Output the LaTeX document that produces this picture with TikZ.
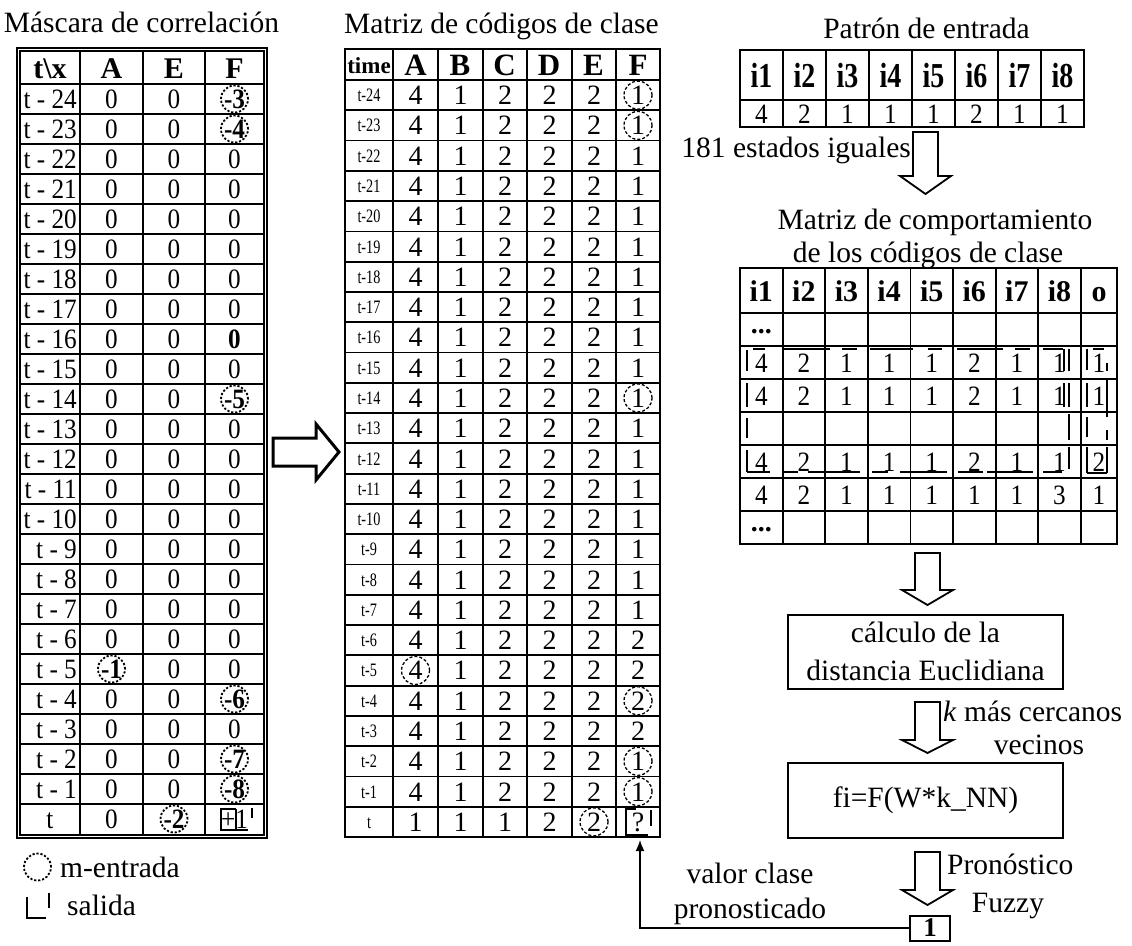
\documentclass[tikz,border=0pt]{standalone}
\usepackage{fontspec}
\setmainfont{Liberation Serif}
\newfontfamily\condfont[FakeStretch=0.9]{Liberation Serif}
\newfontfamily\slimfont[FakeStretch=0.8]{Liberation Serif}
\newfontfamily\tinyfont[FakeStretch=0.75]{Liberation Serif}
\usetikzlibrary{arrows.meta}
\newcommand\fsz[1]{\fontsize{#1}{#1}\selectfont}
% hollow block arrow pointing down: x centre, top, head base, tip
\newcommand\hollowdown[4]{\draw[block] ({#1-12.5},#2) -- ({#1+12.5},#2) -- ({#1+12.5},#3) -- ({#1+25.5},#3) -- (#1,#4) -- ({#1-25.5},#3) -- ({#1-12.5},#3) -- cycle;}
\begin{document}
\begin{tikzpicture}[x=1pt,y=-1pt,
  every node/.style={inner sep=0pt},
  cell/.style={text height=#1, text depth=0pt},
  gridline/.style={line width=1.6pt},
  gridM/.style={line width=1.8pt},
  ttl/.style={font=\fsz{29.5}, anchor=base},
  hdrL/.style={cell=20pt, font=\fsz{30}\bfseries},
  numL/.style={cell=19pt, font=\condfont\fsz{28}},
  ringL/.style={circle, draw, line width=1.8pt, dash pattern=on 2.2pt off 1.8pt, minimum size=27pt},
  hdrM/.style={cell=21pt, font=\fsz{31}\bfseries},
  timeM/.style={cell=13pt, font=\tinyfont\fsz{19}},
  numM/.style={cell=19pt, font=\fsz{28}},
  ringM/.style={circle, draw, line width=1.3pt, dash pattern=on 3pt off 2pt, minimum size=28pt},
  hdrP/.style={cell=24pt, font=\slimfont\fsz{35}\bfseries},
  hdrB/.style={cell=21pt, font=\fsz{30}\bfseries},
  numR/.style={cell=19pt, font=\condfont\fsz{28}},
  dotsR/.style={font=\fsz{28}\bfseries},
  salidaline/.style={line width=1.6pt},
  bracket/.style={line width=1.6pt},
  block/.style={line width=1.8pt, line join=miter},
  procbox/.style={draw, line width=2pt, minimum width=275pt, minimum height=74pt, align=center, font=\fontsize{29.5}{38}\selectfont},
  plain/.style={font=\fsz{29.5}}
]
\useasboundingbox (0,0) rectangle (1132,945);

%---------------- Máscara de correlación ----------------
\node[ttl] (titL) at (141.5,32) {Máscara de correlación};
\draw[line width=1.5pt] (17,48) rectangle (267,838);
\draw[line width=1.5pt] (20,51) rectangle (264,835);
\foreach \x in {80,143,205} \draw[gridline] (\x,51) -- (\x,835);
\draw[gridline] (20,84) -- (264,84);
\foreach \k in {1,...,24} \draw[gridline] (20,{84+30*\k}) -- (264,{84+30*\k});
\node[hdrL] (LH0) at (50,68) {t\textbackslash x};
\node[hdrL] (LHA) at (111.5,68) {A};
\node[hdrL] (LHE) at (174,68) {E};
\node[hdrL] (LHF) at (234.5,68) {F};
\foreach \k in {1,...,24}{
  \pgfmathtruncatemacro\n{25-\k}
  \node[numL, anchor=east] (Lr\k) at (77,{99+30*(\k-1)}) {t - \n};
}
\node[numL] (Lr25) at (50,819) {t};
\foreach \va/\ve/\vf [count=\k] in {0/0/{\textbf{-3}},0/0/{\textbf{-4}},0/0/0,0/0/0,0/0/0,0/0/0,0/0/0,0/0/0,
  0/0/{\textbf{0}},0/0/0,0/0/{\textbf{-5}},0/0/0,0/0/0,0/0/0,0/0/0,0/0/0,0/0/0,0/0/0,0/0/0,
  {\textbf{-1}}/0/0,0/0/{\textbf{-6}},0/0/0,0/0/{\textbf{-7}},0/0/{\textbf{-8}},0/{\textbf{-2}}/{+1}}{
  \node[numL] (LA\k) at (111.5,{99+30*(\k-1)}) {\va};
  \node[numL] (LE\k) at (174,{99+30*(\k-1)}) {\ve};
  \node[numL] (LF\k) at (234.5,{99+30*(\k-1)}) {\vf};
}
\foreach \c/\k in {F/1,F/2,F/11,A/20,F/21,F/23,F/24,E/25}
  \node[ringL] (cL\c\k) at (L\c\k) {};
% output mark around +1
\draw[salidaline] (236,809) -- (221,809) -- (221,830) -- (248,830);
\draw[salidaline] (236,809) -- (236,830);
\draw[salidaline] (252,808) -- (252,818);

% legend
\node[ringL] (legc) at (37.5,867) {};
\node[plain, anchor=base west] (legm) at (60,877) {m-entrada};
\draw[salidaline] (27,897) -- (27,918) -- (46,918);
\draw[salidaline] (49,893) -- (49,908);
\node[plain, anchor=base west] (legs) at (67,915) {salida};

%---------------- block arrow between the tables ----------------
\draw[line width=3pt, line join=miter] (273,438) -- (316,438) -- (316,424) -- (339,452) -- (316,480) -- (316,466) -- (273,466) -- cycle;

%---------------- Matriz de códigos de clase ----------------
\node[ttl] (titM) at (501.5,33) {Matriz de códigos de clase};
\draw[gridM] (345,49) rectangle (660,837);
\foreach \x in {393,438,483,527,572,616} \draw[gridM] (\x,49) -- (\x,837);
\draw[gridM] (345,80) -- (660,80);
\foreach \k in {1,...,24} \draw[gridM] (345,{80+30.28*\k}) -- (660,{80+30.28*\k});
\node[cell=16pt, font=\fsz{23}\bfseries] (MHt) at (369,65) {time};
\foreach \h [count=\c] in {A,B,C,D,E,F}
  \node[hdrM] (MH\h) at ({415.5+44.5*(\c-1)},65) {\h};
\foreach \k in {1,...,24}{
  \pgfmathtruncatemacro\n{25-\k}
  \node[timeM] (Mt\k) at (369,{95.14+30.28*(\k-1)}) {t-\n};
}
\node[timeM] (Mt25) at (369,{95.14+30.28*24}) {t};
\foreach \ca/\cb/\cc/\cd/\ce/\cf [count=\k] in {4/1/2/2/2/1,4/1/2/2/2/1,4/1/2/2/2/1,4/1/2/2/2/1,4/1/2/2/2/1,
  4/1/2/2/2/1,4/1/2/2/2/1,4/1/2/2/2/1,4/1/2/2/2/1,4/1/2/2/2/1,4/1/2/2/2/1,4/1/2/2/2/1,4/1/2/2/2/1,
  4/1/2/2/2/1,4/1/2/2/2/1,4/1/2/2/2/1,4/1/2/2/2/1,4/1/2/2/2/1,4/1/2/2/2/2,4/1/2/2/2/2,4/1/2/2/2/2,
  4/1/2/2/2/2,4/1/2/2/2/1,4/1/2/2/2/1,1/1/1/2/2/?}{
  \pgfmathsetmacro\yy{95.14+30.28*(\k-1)}
  \node[numM] (MA\k) at (415.5,\yy) {\ca};
  \node[numM] (MB\k) at (460.5,\yy) {\cb};
  \node[numM] (MC\k) at (505,\yy) {\cc};
  \node[numM] (MD\k) at (549.5,\yy) {\cd};
  \node[numM] (ME\k) at (594,\yy) {\ce};
  \node[numM] (MF\k) at (638,\yy) {\cf};
}
\foreach \c/\k in {F/1,F/2,F/11,A/20,F/21,F/23,F/24,E/25}
  \node[ringM] (cM\c\k) at (M\c\k) {};
% output mark around ?
\draw[salidaline] (636,809) -- (626,809) -- (626,835) -- (648,835);
\draw[salidaline] (651,810) -- (651,826);
\coordinate (qtgt) at (640,840);

%---------------- Patrón de entrada ----------------
\node[ttl] (titP) at (926.5,38) {Patrón de entrada};
\draw[gridM] (740,50) rectangle (1084,127);
\draw[gridM] (740,100) -- (1084,100);
\foreach \c in {1,...,7} \draw[gridM] ({740+43*\c},50) -- ({740+43*\c},127);
\foreach \v [count=\c] in {4,2,1,1,1,2,1,1}{
  \node[hdrP] (PH\c) at ({740+43*(\c-0.5)},75) {i\c};
  \node[numR] (PV\c) at ({740+43*(\c-0.5)},114) {\v};
}
\node[plain, anchor=base east] (lab181) at (911,157) {181 estados iguales};
\hollowdown{925.5}{132}{176}{194}

%---------------- Matriz de comportamiento ----------------
\node[ttl] (titB1) at (935,229) {Matriz de comportamiento};
\node[ttl] (titB2) at (928,262) {de los códigos de clase};
\draw[gridM] (740,268) rectangle (1117,544);
\foreach \c in {1,...,8} \draw[gridM] ({740+42.6*\c},268) -- ({740+42.6*\c},544);
\draw[gridM] (740,313) -- (1117,313);
\foreach \r in {1,...,6} \draw[gridM] (740,{313+33*\r}) -- (1117,{313+33*\r});
\foreach \h [count=\c] in {i1,i2,i3,i4,i5,i6,i7,i8,o}{
  \pgfmathsetmacro\xx{\c<9 ? 740+42.6*(\c-0.5) : 1099}
  \node[hdrB] (BH\c) at (\xx,291) {\h};
}
\node[dotsR] (Bdot1) at (761.3,332) {...};
\node[dotsR] (Bdot7) at (761.3,530) {...};
\foreach \r/\vals in {2/{4,2,1,1,1,2,1,1,1},3/{4,2,1,1,1,2,1,1,1},5/{4,2,1,1,1,2,1,1,2},6/{4,2,1,1,1,1,1,3,1}}{
  \foreach \v [count=\c] in \vals {
    \pgfmathsetmacro\xx{\c<9 ? 740+42.6*(\c-0.5) : 1099}
    \node[numR] (B\r-\c) at (\xx,{313+33*(\r-0.5)}) {\v};
  }
}
% group of equal states
\foreach \a/\b in {753/765,783/830,842/857,870/913,928/942,957/1003,1015/1030,1043/1063,1093/1104}
  \draw[bracket] (\a,349) -- (\b,349);
\foreach \a/\b in {747/770,783/798,808/860,872/888,900/947,958/983,987/1033,1043/1062}
  \draw[bracket] (\a,472) -- (\b,472);
\foreach \a/\b in {350/371,383/407,418/438,450/472}
  \draw[bracket] (747,\a) -- (747,\b);
\foreach \a/\b in {349/371,383/407}
  \draw[bracket] (1064,\a) -- (1064,\b);
\foreach \a/\b in {349/371,383/407,414/440,447/469}
  \draw[bracket] (1069,\a) -- (1069,\b);
\foreach \a/\b in {349/370,383/407,417/437,447/473}
  \draw[bracket] (1087,\a) -- (1087,\b);
\foreach \a/\b in {363/371,378/417,430/440,447/473}
  \draw[bracket] (1107,\a) -- (1107,\b);
\draw[bracket] (1087,473) -- (1107,473);

%---------------- processing chain ----------------
\hollowdown{927.5}{553}{590}{605}
\node[procbox] (euc) at (925.5,651.5) {cálculo de la\\distancia Euclidiana};
\hollowdown{927.5}{702}{740}{753}
\node[plain, anchor=base west] (knn) at (943,721) {\textit{k} más cercanos};
\node[plain, anchor=base] (knn2) at (1039,754) {vecinos};
\node[procbox, minimum height=75pt] (fuz) at (925.5,800.5) {fi=F(W*k\_NN)};
\hollowdown{927.5}{852}{890}{905}
\node[plain, anchor=base west] (pron) at (947,874) {Pronóstico};
\node[plain, anchor=base] (pron2) at (1008,912) {Fuzzy};
\node[draw, line width=2pt, minimum width=40pt, minimum height=25pt, font=\fsz{27}\bfseries] (one) at (930,928) {1};
\node[plain, anchor=base] (val1) at (750,883) {valor clase};
\node[plain, anchor=base] (val2) at (750,918) {pronosticado};
\draw[line width=1.6pt, -{Latex[length=11pt,width=9pt]}] (one.west) -| (qtgt);
\end{tikzpicture}
\end{document}
